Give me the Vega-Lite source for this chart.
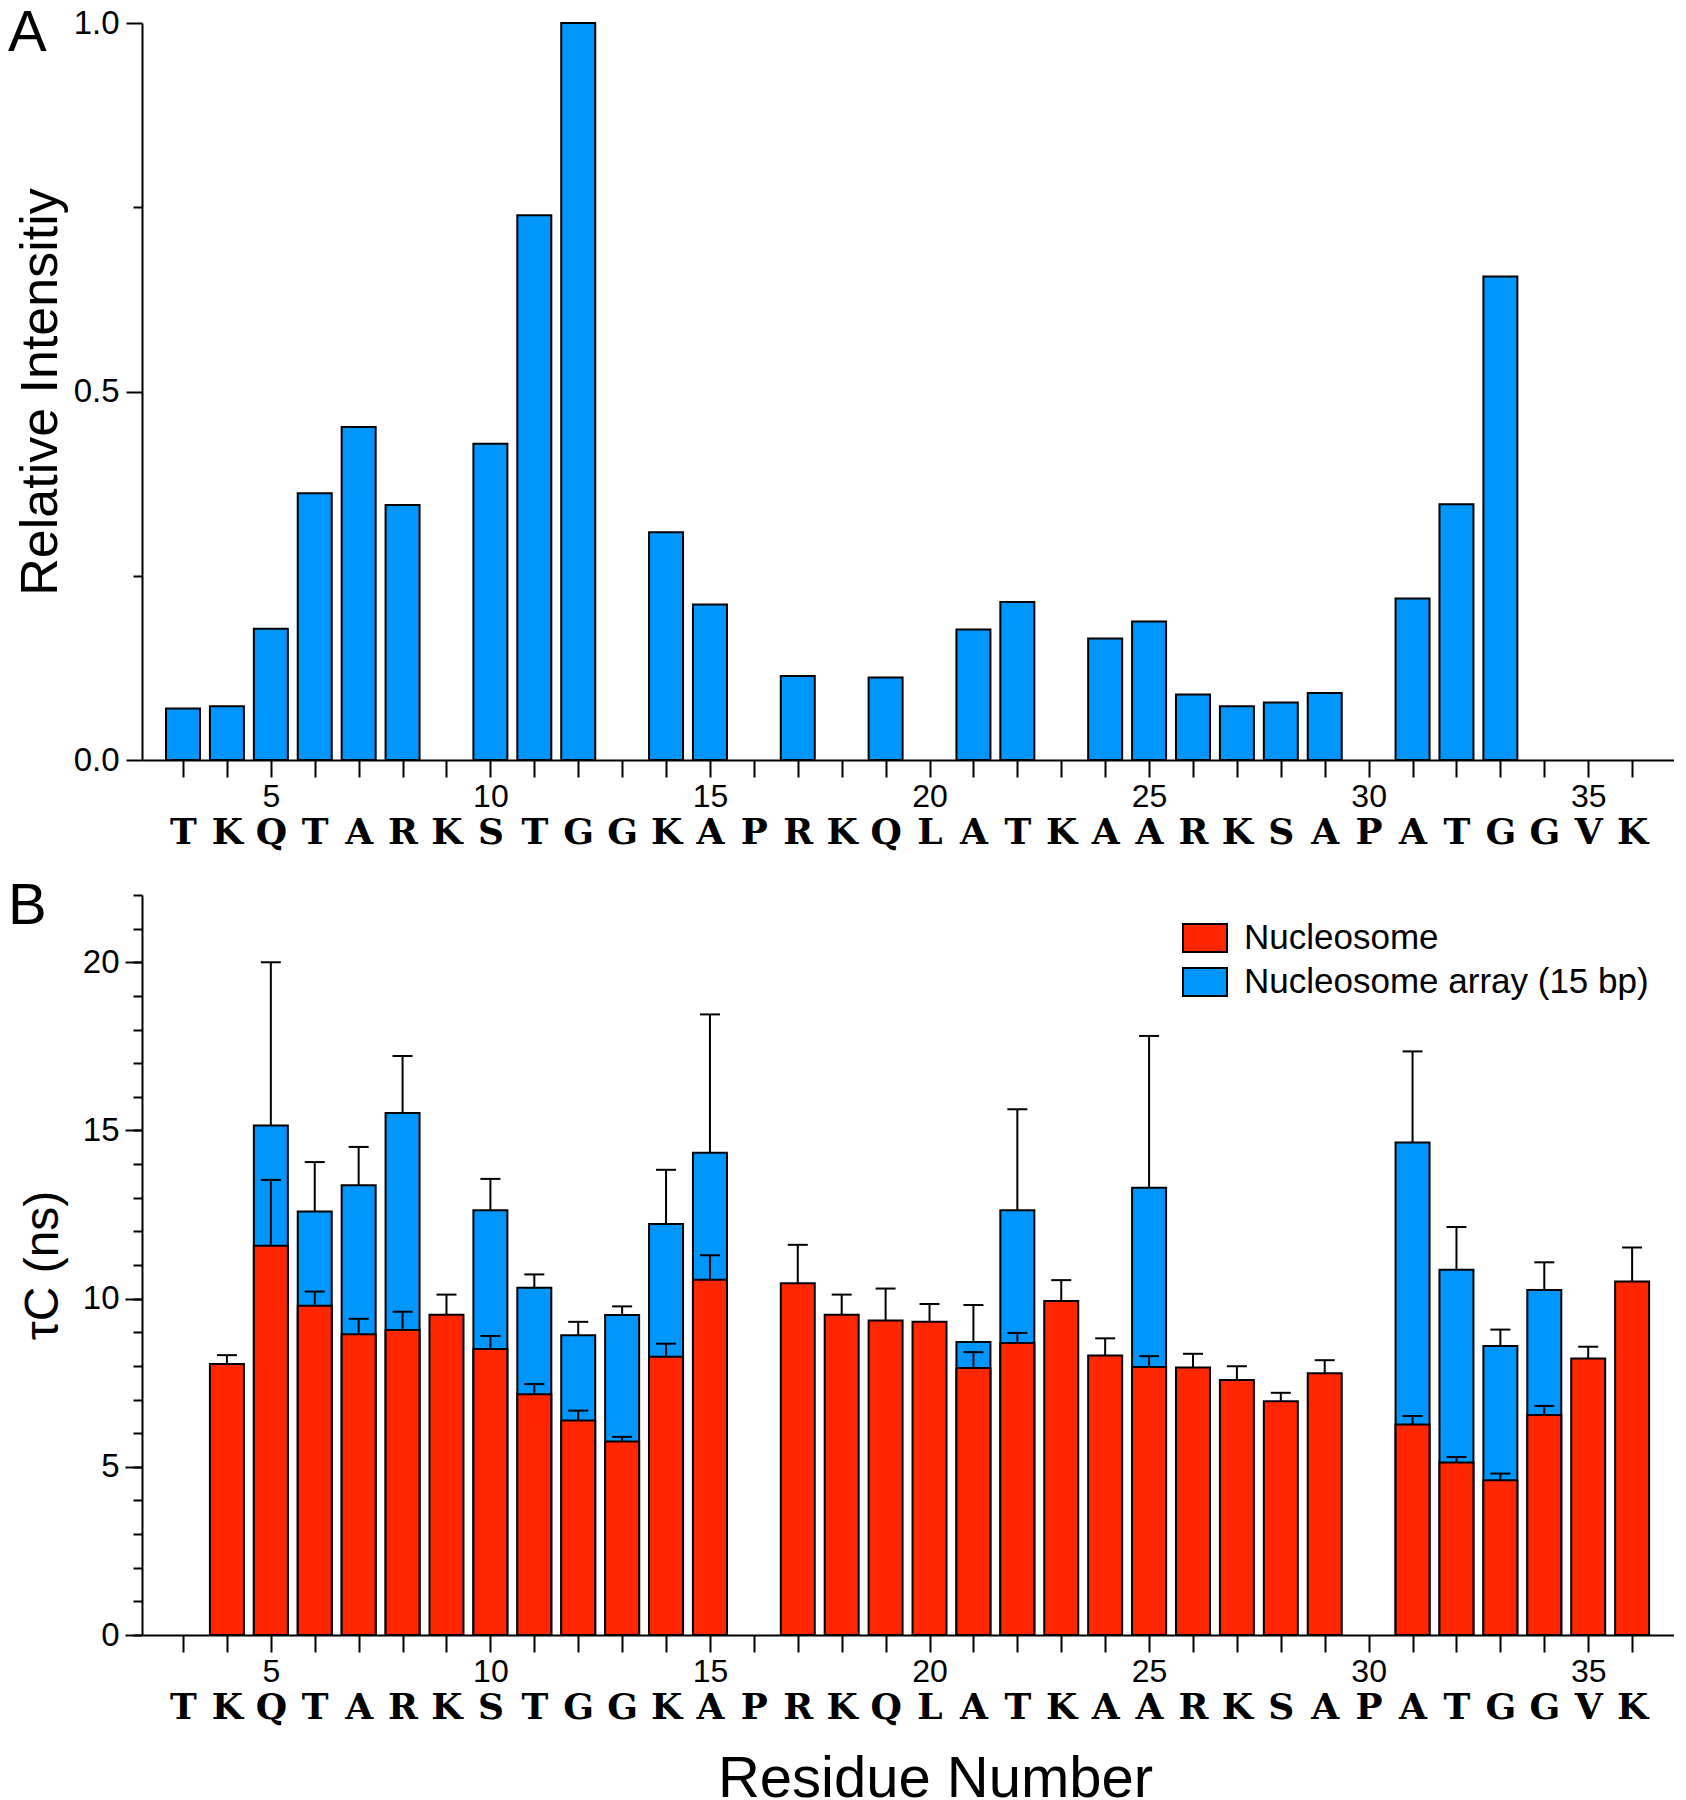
{
  "$schema": "https://vega.github.io/schema/vega-lite/v6.json",
  "background": "white",
  "padding": {"left": 8, "top": 4, "right": 0, "bottom": 0},
  "spacing": 28,
  "config": {
    "view": {"stroke": null},
    "font": "Liberation Sans",
    "axis": {
      "grid": false,
      "domainColor": "black", "domainWidth": 2,
      "tickColor": "black", "tickWidth": 2,
      "labelColor": "black", "titleColor": "black",
      "labelFont": "Liberation Sans", "titleFont": "Liberation Sans",
      "titleFontWeight": "normal",
      "labelFlush": false, "labelOverlap": false, "labelBound": false
    }
  },
  "vconcat": [
    {
      "width": 1532,
      "height": 737,
      "title": {"text": "A", "anchor": "start", "frame": "group", "orient": "top", "fontSize": 58, "fontWeight": "normal", "font": "Liberation Sans", "color": "black", "dx": -134, "offset": 1, "dy": 56.6},
      "data": {"values": [
        {"res": 3, "ri": 0.070}, {"res": 4, "ri": 0.073}, {"res": 5, "ri": 0.178}, {"res": 6, "ri": 0.362},
        {"res": 7, "ri": 0.452}, {"res": 8, "ri": 0.346}, {"res": 10, "ri": 0.429}, {"res": 11, "ri": 0.739},
        {"res": 12, "ri": 1.0}, {"res": 14, "ri": 0.309}, {"res": 15, "ri": 0.211}, {"res": 17, "ri": 0.114},
        {"res": 19, "ri": 0.112}, {"res": 21, "ri": 0.177}, {"res": 22, "ri": 0.2145}, {"res": 24, "ri": 0.165},
        {"res": 25, "ri": 0.188}, {"res": 26, "ri": 0.089}, {"res": 27, "ri": 0.073}, {"res": 28, "ri": 0.078},
        {"res": 29, "ri": 0.091}, {"res": 31, "ri": 0.219}, {"res": 32, "ri": 0.347}, {"res": 33, "ri": 0.656}
      ]},
      "layer": [
        {
          "mark": {"type": "bar", "orient": "vertical", "width": 34, "fill": "#0096FF", "stroke": "black", "strokeWidth": 2},
          "encoding": {
            "x": {"field": "res", "type": "quantitative", "scale": {"domain": [2.18, 36.84], "nice": false, "zero": false},
              "axis": {"orient": "bottom", "title": null, "values": [3,4,5,6,7,8,9,10,11,12,13,14,15,16,17,18,19,20,21,22,23,24,25,26,27,28,29,30,31,32,33,34,35,36],
                "labelExpr": "datum.value % 5 === 0 ? datum.label : ''", "tickSize": 17, "labelPadding": 4, "labelFontSize": 32}},
            "y": {"field": "ri", "type": "quantitative", "scale": {"domain": [0, 1], "nice": false},
              "axis": {"orient": "left", "title": "Relative Intensitiy", "titleFontSize": 52, "titlePadding": 6, "values": [0, 0.5, 1], "format": ".1f", "tickSize": 16, "labelPadding": 7, "labelFontSize": 33}}
          }
        },
        {
          "mark": {"type": "bar", "orient": "vertical", "width": 34, "opacity": 0},
          "encoding": {
            "x": {"field": "res", "type": "quantitative",
              "axis": {"orient": "bottom", "title": null, "domain": false, "ticks": false, "values": [3,4,5,6,7,8,9,10,11,12,13,14,15,16,17,18,19,20,21,22,23,24,25,26,27,28,29,30,31,32,33,34,35,36],
                "labelExpr": "substring('TKQTARKSTGGKAPRKQLATKAARKSAPATGGVK', datum.value - 3, datum.value - 2)",
                "labelFont": "DejaVu Serif", "labelFontWeight": "bold", "labelFontSize": 36, "labelPadding": 55}},
            "y": {"field": "ri", "type": "quantitative",
              "axis": {"orient": "left", "title": null, "domain": false, "labels": false, "values": [0.25, 0.75], "tickSize": 9}}
          }
        }
      ],
      "resolve": {"axis": {"x": "independent", "y": "independent"}}
    },
    {
      "width": 1532,
      "height": 740,
      "title": {"text": "B", "anchor": "start", "frame": "group", "orient": "top", "fontSize": 58, "fontWeight": "normal", "font": "Liberation Sans", "color": "black", "dx": -134, "offset": 12, "dy": 54},
      "data": {"values": [
        {"res": 5, "series": "Nucleosome array (15 bp)", "tau": 15.15, "hi": 20.0},
        {"res": 6, "series": "Nucleosome array (15 bp)", "tau": 12.59, "hi": 14.06},
        {"res": 7, "series": "Nucleosome array (15 bp)", "tau": 13.37, "hi": 14.51},
        {"res": 8, "series": "Nucleosome array (15 bp)", "tau": 15.52, "hi": 17.21},
        {"res": 10, "series": "Nucleosome array (15 bp)", "tau": 12.63, "hi": 13.56},
        {"res": 11, "series": "Nucleosome array (15 bp)", "tau": 10.32, "hi": 10.72},
        {"res": 12, "series": "Nucleosome array (15 bp)", "tau": 8.91, "hi": 9.31},
        {"res": 13, "series": "Nucleosome array (15 bp)", "tau": 9.51, "hi": 9.77},
        {"res": 14, "series": "Nucleosome array (15 bp)", "tau": 12.22, "hi": 13.83},
        {"res": 15, "series": "Nucleosome array (15 bp)", "tau": 14.34, "hi": 18.45},
        {"res": 21, "series": "Nucleosome array (15 bp)", "tau": 8.71, "hi": 9.81},
        {"res": 22, "series": "Nucleosome array (15 bp)", "tau": 12.63, "hi": 15.63},
        {"res": 25, "series": "Nucleosome array (15 bp)", "tau": 13.30, "hi": 17.81},
        {"res": 31, "series": "Nucleosome array (15 bp)", "tau": 14.64, "hi": 17.35},
        {"res": 32, "series": "Nucleosome array (15 bp)", "tau": 10.86, "hi": 12.13},
        {"res": 33, "series": "Nucleosome array (15 bp)", "tau": 8.59, "hi": 9.08},
        {"res": 34, "series": "Nucleosome array (15 bp)", "tau": 10.26, "hi": 11.08},
        {"res": 4, "series": "Nucleosome", "tau": 8.06, "hi": 8.32},
        {"res": 5, "series": "Nucleosome", "tau": 11.57, "hi": 13.53},
        {"res": 6, "series": "Nucleosome", "tau": 9.79, "hi": 10.21},
        {"res": 7, "series": "Nucleosome", "tau": 8.94, "hi": 9.40},
        {"res": 8, "series": "Nucleosome", "tau": 9.07, "hi": 9.61},
        {"res": 9, "series": "Nucleosome", "tau": 9.52, "hi": 10.12},
        {"res": 10, "series": "Nucleosome", "tau": 8.50, "hi": 8.89},
        {"res": 11, "series": "Nucleosome", "tau": 7.16, "hi": 7.46},
        {"res": 12, "series": "Nucleosome", "tau": 6.38, "hi": 6.67},
        {"res": 13, "series": "Nucleosome", "tau": 5.75, "hi": 5.89},
        {"res": 14, "series": "Nucleosome", "tau": 8.27, "hi": 8.66},
        {"res": 15, "series": "Nucleosome", "tau": 10.56, "hi": 11.29},
        {"res": 17, "series": "Nucleosome", "tau": 10.46, "hi": 11.60},
        {"res": 18, "series": "Nucleosome", "tau": 9.52, "hi": 10.12},
        {"res": 19, "series": "Nucleosome", "tau": 9.35, "hi": 10.30},
        {"res": 20, "series": "Nucleosome", "tau": 9.31, "hi": 9.84},
        {"res": 21, "series": "Nucleosome", "tau": 7.94, "hi": 8.41},
        {"res": 22, "series": "Nucleosome", "tau": 8.68, "hi": 8.98},
        {"res": 23, "series": "Nucleosome", "tau": 9.93, "hi": 10.55},
        {"res": 24, "series": "Nucleosome", "tau": 8.31, "hi": 8.82},
        {"res": 25, "series": "Nucleosome", "tau": 7.97, "hi": 8.29},
        {"res": 26, "series": "Nucleosome", "tau": 7.95, "hi": 8.36},
        {"res": 27, "series": "Nucleosome", "tau": 7.58, "hi": 7.99},
        {"res": 28, "series": "Nucleosome", "tau": 6.95, "hi": 7.20},
        {"res": 29, "series": "Nucleosome", "tau": 7.78, "hi": 8.17},
        {"res": 31, "series": "Nucleosome", "tau": 6.26, "hi": 6.51},
        {"res": 32, "series": "Nucleosome", "tau": 5.13, "hi": 5.29},
        {"res": 33, "series": "Nucleosome", "tau": 4.60, "hi": 4.80},
        {"res": 34, "series": "Nucleosome", "tau": 6.54, "hi": 6.81},
        {"res": 35, "series": "Nucleosome", "tau": 8.22, "hi": 8.57},
        {"res": 36, "series": "Nucleosome", "tau": 10.51, "hi": 11.52}
      ]},
      "layer": [
        {
          "mark": {"type": "bar", "orient": "vertical", "width": 34, "stroke": "black", "strokeWidth": 2, "opacity": 1},
          "encoding": {
            "x": {"field": "res", "type": "quantitative", "scale": {"domain": [2.18, 36.84], "nice": false, "zero": false},
              "axis": {"orient": "bottom", "title": null, "values": [3,4,5,6,7,8,9,10,11,12,13,14,15,16,17,18,19,20,21,22,23,24,25,26,27,28,29,30,31,32,33,34,35,36],
                "labelExpr": "datum.value % 5 === 0 ? datum.label : ''", "tickSize": 17, "labelPadding": 4, "labelFontSize": 32}},
            "y": {"field": "tau", "type": "quantitative", "stack": null, "scale": {"domain": [0, 22], "nice": false},
              "axis": {"orient": "left", "title": "τC (ns)", "titleFontSize": 48, "titlePadding": 15, "values": [0, 5, 10, 15, 20], "tickSize": 17, "labelPadding": 6, "labelFontSize": 33}},
            "color": {"field": "series", "type": "nominal",
              "scale": {"domain": ["Nucleosome", "Nucleosome array (15 bp)"], "range": ["#FF2600", "#0096FF"]},
              "legend": {"orient": "none", "legendX": 1040, "legendY": 892, "title": null, "padding": 0,
                "symbolType": "M-1,-0.64H1V0.64H-1Z", "symbolSize": 1936, "symbolStrokeColor": "black", "symbolStrokeWidth": 2, "symbolOpacity": 1,
                "labelFont": "Liberation Sans", "labelFontSize": 35, "labelColor": "black", "labelOffset": 16, "rowPadding": 2, "labelLimit": 600}}
          }
        },
        {
          "mark": {"type": "rule", "color": "black", "strokeWidth": 2},
          "encoding": {
            "x": {"field": "res", "type": "quantitative",
              "axis": {"orient": "bottom", "title": "Residue Number", "titleFontSize": 58, "titlePadding": 25, "titleX": 793, "titleAlign": "center", "domain": false, "ticks": false, "values": [3,4,5,6,7,8,9,10,11,12,13,14,15,16,17,18,19,20,21,22,23,24,25,26,27,28,29,30,31,32,33,34,35,36],
                "labelExpr": "substring('TKQTARKSTGGKAPRKQLATKAARKSAPATGGVK', datum.value - 3, datum.value - 2)",
                "labelFont": "DejaVu Serif", "labelFontWeight": "bold", "labelFontSize": 36, "labelPadding": 55}},
            "y": {"field": "tau", "type": "quantitative",
              "axis": {"orient": "left", "title": null, "domain": false, "labels": false, "values": [0,1,2,3,4,5,6,7,8,9,10,11,12,13,14,15,16,17,18,19,20,21,22], "tickSize": 9}},
            "y2": {"field": "hi"}
          }
        },
        {
          "mark": {"type": "tick", "orient": "horizontal", "size": 20, "thickness": 2, "color": "black", "opacity": 1},
          "encoding": {
            "x": {"field": "res", "type": "quantitative", "axis": null},
            "y": {"field": "hi", "type": "quantitative", "axis": null}
          }
        }
      ],
      "resolve": {"axis": {"x": "independent", "y": "independent"}}
    }
  ]
}
